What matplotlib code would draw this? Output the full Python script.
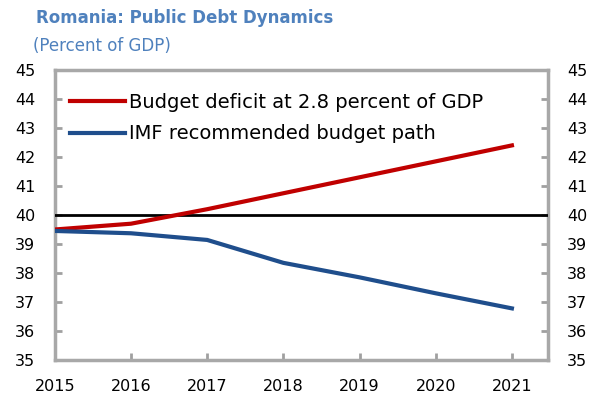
import matplotlib.pyplot as plt

years = [2015, 2016, 2017, 2018, 2019, 2020, 2021]
deficit_28 = [39.5, 39.7, 40.2, 40.75, 41.3, 41.85, 42.4]
imf_path = [39.45, 39.37, 39.14, 38.35, 37.85, 37.3, 36.78]
y_ticks = list(range(35, 46))

fig = plt.figure(figsize=(5.96, 4), dpi=100)
ax = fig.add_axes([0.092, 0.1, 0.827, 0.725])

ax.axhline(40, color='black', lw=2, zorder=3)
ax.plot(years, deficit_28, color='#c00000', lw=3, zorder=4,
        label='Budget deficit at 2.8 percent of GDP')
ax.plot(years, imf_path, color='#1f4e8c', lw=3, zorder=4,
        label='IMF recommended budget path')

ax.set_xlim(2015, 2021.47)
ax.set_ylim(35, 45)
ax.set_xticks(years)
ax.set_yticks(y_ticks)
ax.tick_params(axis='both', direction='in', color='#a0a0a0', width=2, length=5,
               labelsize=11.5, right=True, labelright=True)
ax.tick_params(axis='x', pad=14)
ax.tick_params(axis='y', which='both', pad=14)
for s in ax.spines.values():
    s.set_color('#a8a8a8')
    s.set_linewidth(2.5)

ax.legend(loc='upper left', bbox_to_anchor=(0, 0.975), frameon=False,
          fontsize=14, handlelength=2.8, handletextpad=0.2,
          borderaxespad=0.4, labelspacing=0.65)

fig.text(0.06, 0.955, 'Romania: Public Debt Dynamics', color='#4f81bd',
         fontsize=12, fontweight='bold', va='center')
fig.text(0.055, 0.885, '(Percent of GDP)', color='#4f81bd', fontsize=12, va='center')

plt.savefig('out.png')
